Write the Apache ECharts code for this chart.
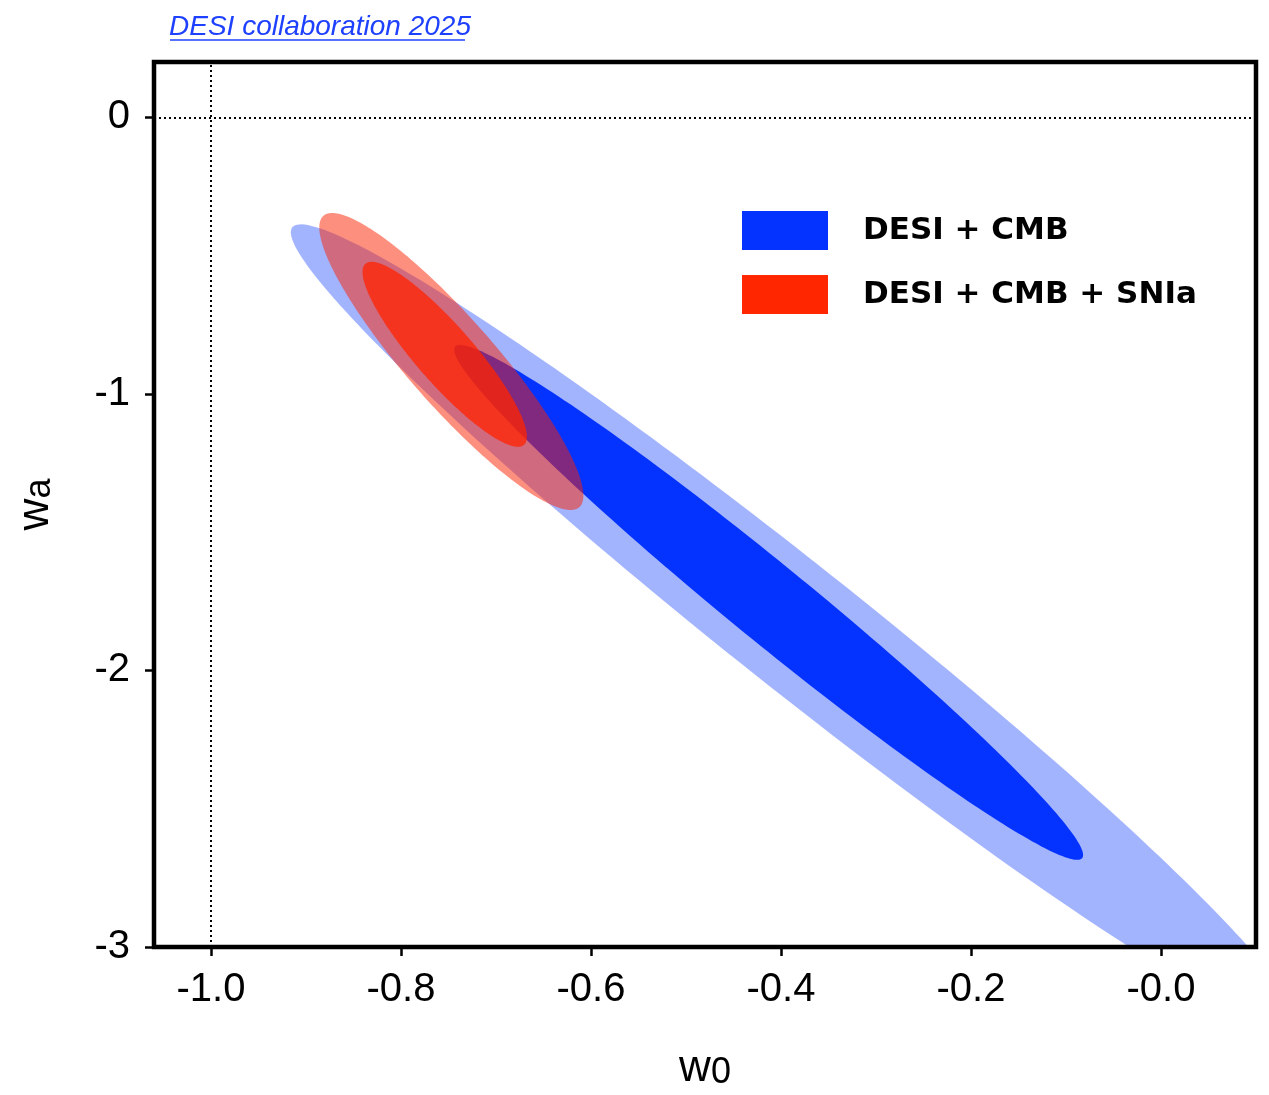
<!DOCTYPE html>
<html>
<head>
<meta charset="utf-8">
<script src="https://cdn.jsdelivr.net/npm/echarts@6/dist/echarts.min.js"></script>
<style>
  html, body { margin: 0; padding: 0; background: #ffffff; }
  #chart { width: 1269px; height: 1095px; }
</style>
</head>
<body>
<div id="chart"></div>
<script>
// ---- data ----
const xTickValues = [-1.0, -0.8, -0.6, -0.4, -0.2, 0.0];
const xTickLabels = ['-1.0', '-0.8', '-0.6', '-0.4', '-0.2', '-0.0'];
const yTickValues = [0, -1, -2, -3];
const yTickLabels = ['0', '-1', '-2', '-3'];

// confidence contours: centre, half-extent in w0 and wa, and w0-wa correlation
const contourSeries = ['DESI + CMB', 'DESI + CMB', 'DESI + CMB + SNIa', 'DESI + CMB + SNIa'];
const contourLevel  = ['95%', '68%', '95%', '68%'];
const centerW0 = [-0.387, -0.413, -0.747, -0.754];
const centerWa = [-1.836, -1.754, -0.883, -0.857];
const halfW0   = [0.529, 0.331, 0.139, 0.0865];
const halfWa   = [1.449, 0.931, 0.537, 0.3345];
const corrW0Wa = [-0.980, -0.981, -0.902, -0.89];

const refW0 = -1.0;   // w0 = -1 reference line
const refWa = 0;      // wa = 0 reference line

const legendNames = ['DESI + CMB', 'DESI + CMB + SNIa'];

// ---- styles ----
const fills = ['rgba(0,48,255,0.36)', '#0433ff', 'rgba(252,32,0,0.5)', 'rgba(255,35,0,0.76)'];
const legendColors = ['#0433ff', '#ff2600'];
const tickFont = "'Liberation Sans', sans-serif";
const nameFont = "'Liberation Sans', sans-serif";

function pickLabel(values, labels, v) {
  for (let i = 0; i < values.length; i++) {
    if (Math.abs(values[i] - v) < 1e-6) return labels[i];
  }
  return '';
}

function renderEllipse(params, api) {
  const cx = api.value(0), cy = api.value(1);
  const sx = api.value(2), sy = api.value(3), r = api.value(4);
  const q = Math.sqrt(1 - r * r);
  const pts = [];
  const N = 240;
  for (let k = 0; k < N; k++) {
    const t = 2 * Math.PI * k / N;
    const c = Math.cos(t), s = Math.sin(t);
    pts.push(api.coord([cx + sx * c, cy + sy * (r * c + q * s)]));
  }
  return {
    type: 'polygon',
    shape: { points: pts },
    style: { fill: api.visual('color') }
  };
}

const series = contourSeries.map((name, i) => ({
  type: 'custom',
  name: name,
  clip: true,
  renderItem: renderEllipse,
  itemStyle: { color: fills[i] },
  dimensions: ['w0', 'wa', 'dw0', 'dwa', 'rho'],
  encode: { x: 0, y: 1 },
  data: [[centerW0[i], centerWa[i], halfW0[i], halfWa[i], corrW0Wa[i]]],
  silent: true
}));

series.unshift({
  type: 'line',
  name: 'reference',
  data: [],
  markLine: {
    silent: true,
    symbol: ['none', 'none'],
    label: { show: false },
    lineStyle: { type: [2, 3], width: 2, color: '#000' },
    data: [{ xAxis: refW0 }, { yAxis: refWa }]
  }
});

const richName = {
  w: { fontFamily: nameFont, fontSize: 44, lineHeight: 44, verticalAlign: 'bottom', color: '#000' },
  s: { fontFamily: nameFont, fontSize: 36, lineHeight: 24, verticalAlign: 'bottom', color: '#000' }
};

const chart = echarts.init(document.getElementById('chart'), null, { renderer: 'canvas' });
chart.setOption({
  animation: false,
  backgroundColor: '#ffffff',
  title: {
    text: 'DESI collaboration 2025',
    left: 169,
    top: 13,
    padding: 0,
    textStyle: {
      fontFamily: nameFont,
      fontStyle: 'italic',
      fontWeight: 'normal',
      fontSize: 28,
      color: '#1e40ff'
    }
  },
  graphic: [{
    type: 'line',
    shape: { x1: 170, y1: 40, x2: 465, y2: 40 },
    style: { stroke: '#1e40ff', lineWidth: 1.5 }
  }],
  legend: {
    orient: 'vertical',
    left: 742,
    top: 211,
    padding: 0,
    itemWidth: 86,
    itemHeight: 39,
    itemGap: 25,
    selectedMode: false,
    textStyle: {
      fontFamily: "'DejaVu Sans', sans-serif",
      fontWeight: 'bold',
      fontSize: 31,
      color: '#000',
      padding: [0, 0, 0, 30]
    },
    data: legendNames.map((n, i) => ({ name: n, icon: 'rect', itemStyle: { color: legendColors[i] } }))
  },
  grid: {
    show: true,
    z: 10,
    left: 154,
    top: 62,
    width: 1102,
    height: 885,
    outerBoundsMode: 'none',
    containLabel: false,
    borderColor: '#000',
    borderWidth: 4.5,
    backgroundColor: 'rgba(0,0,0,0)'
  },
  xAxis: {
    type: 'value',
    min: -1.06,
    max: 0.1,
    splitLine: { show: false },
    axisLine: { show: false, onZero: false },
    axisTick: { show: true, customValues: xTickValues, length: 9, lineStyle: { color: '#000', width: 2.5 } },
    axisLabel: {
      customValues: xTickValues,
      formatter: v => pickLabel(xTickValues, xTickLabels, v),
      fontFamily: tickFont,
      fontSize: 40,
      color: '#000',
      margin: 23
    },
    name: '{w|w}{s|0}',
    nameLocation: 'middle',
    nameGap: 100,
    nameTextStyle: { rich: richName }
  },
  yAxis: {
    type: 'value',
    min: -3,
    max: 0.2,
    splitLine: { show: false },
    axisLine: { show: false, onZero: false },
    axisTick: { show: true, customValues: yTickValues, length: 9, lineStyle: { color: '#000', width: 2.5 } },
    axisLabel: {
      customValues: yTickValues,
      formatter: v => pickLabel(yTickValues, yTickLabels, v),
      fontFamily: tickFont,
      fontSize: 40,
      color: '#000',
      margin: 24
    },
    name: '{w|w}{s|a}',
    nameLocation: 'middle',
    nameGap: 96,
    nameTextStyle: { rich: richName }
  },
  series: series
});
</script>
</body>
</html>
